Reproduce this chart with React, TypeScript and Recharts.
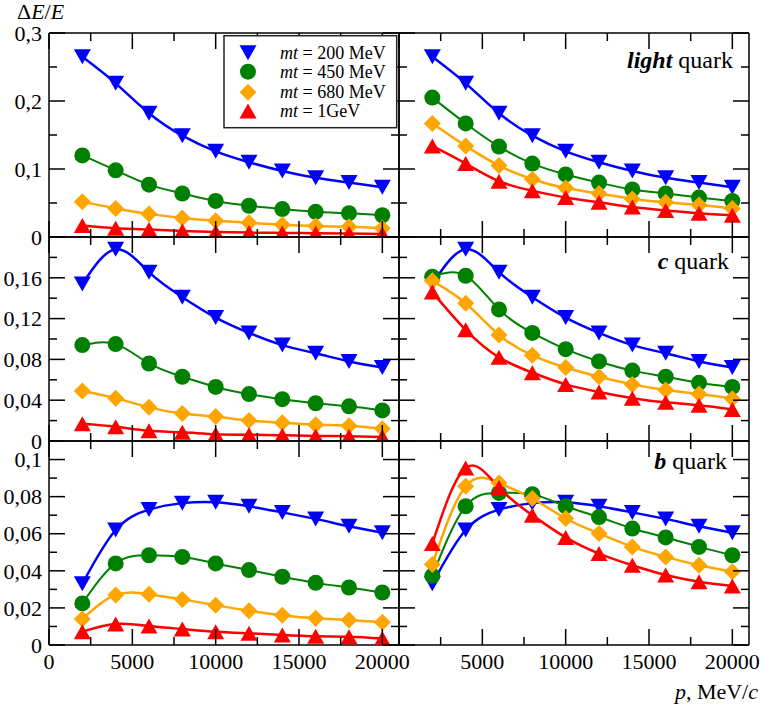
import React from 'react'
import { LineChart, Line, XAxis, YAxis } from 'recharts'

// momentum grid, MeV/c
const P = [2000, 4000, 6000, 8000, 10000, 12000, 14000, 16000, 18000, 20000]

// row 1 (light quark)
const R1_200 = [0.265, 0.226, 0.182, 0.149, 0.126, 0.110, 0.097, 0.087, 0.080, 0.073]
const R1L_450 = [0.120, 0.098, 0.077, 0.064, 0.053, 0.046, 0.041, 0.037, 0.035, 0.032]
const R1L_680 = [0.052, 0.042, 0.034, 0.028, 0.024, 0.021, 0.018, 0.016, 0.015, 0.013]
const R1L_1000 = [0.017, 0.013, 0.011, 0.009, 0.0075, 0.0065, 0.006, 0.0055, 0.005, 0.0045]
const R1R_450 = [0.205, 0.167, 0.133, 0.108, 0.092, 0.080, 0.070, 0.064, 0.058, 0.053]
const R1R_680 = [0.167, 0.134, 0.105, 0.085, 0.072, 0.064, 0.056, 0.051, 0.047, 0.042]
const R1R_1000 = [0.134, 0.108, 0.082, 0.068, 0.058, 0.051, 0.044, 0.039, 0.035, 0.032]

// row 2 (c quark)
const R2_200 = [0.154, 0.188, 0.1655, 0.141, 0.121, 0.106, 0.094, 0.086, 0.078, 0.072]
const R2L_450 = [0.094, 0.095, 0.076, 0.063, 0.053, 0.046, 0.041, 0.037, 0.034, 0.030]
const R2L_680 = [0.049, 0.042, 0.033, 0.027, 0.024, 0.020, 0.018, 0.016, 0.015, 0.012]
const R2L_1000 = [0.017, 0.014, 0.010, 0.0085, 0.0066, 0.0062, 0.0056, 0.005, 0.0046, 0.004]
const R2R_450 = [0.161, 0.162, 0.129, 0.106, 0.090, 0.078, 0.069, 0.063, 0.057, 0.053]
const R2R_680 = [0.157, 0.135, 0.104, 0.084, 0.072, 0.063, 0.0555, 0.050, 0.046, 0.0415]
const R2R_1000 = [0.146, 0.109, 0.082, 0.067, 0.0555, 0.048, 0.042, 0.038, 0.035, 0.031]

// row 3 (b quark)
const R3_200 = [0.033, 0.062, 0.073, 0.0765, 0.077, 0.0748, 0.0715, 0.068, 0.064, 0.0605]
const R3L_450 = [0.0224, 0.044, 0.0484, 0.0475, 0.044, 0.0404, 0.0368, 0.0335, 0.031, 0.0283]
const R3L_680 = [0.014, 0.027, 0.0273, 0.0246, 0.0215, 0.0185, 0.0161, 0.0144, 0.0135, 0.0122]
const R3L_1000 = [0.0072, 0.0113, 0.0102, 0.0086, 0.0072, 0.0063, 0.0054, 0.0047, 0.0045, 0.0035]
const R3R_450 = [0.0373, 0.0748, 0.082, 0.0813, 0.0748, 0.069, 0.0628, 0.058, 0.0529, 0.0484]
const R3R_680 = [0.0434, 0.0856, 0.0874, 0.079, 0.0682, 0.0601, 0.0529, 0.0475, 0.043, 0.0395]
const R3R_1000 = [0.0547, 0.0955, 0.0849, 0.070, 0.058, 0.0493, 0.043, 0.0377, 0.0341, 0.0318]

// axes
const X_TICKS = [0, 2500, 5000, 7500, 10000, 12500, 15000, 17500, 20000]
const R1_TICKS = [0, 0.05, 0.1, 0.15, 0.2, 0.25, 0.3]
const R1_MAJOR = [0, 0.1, 0.2, 0.3]
const R1_LABELS = [0, 0.1, 0.2, 0.3]
const R2_TICKS = [0, 0.02, 0.04, 0.06, 0.08, 0.1, 0.12, 0.14, 0.16, 0.18, 0.2]
const R2_MAJOR = [0, 0.04, 0.08, 0.12, 0.16, 0.2]
const R2_LABELS = [0, 0.04, 0.08, 0.12, 0.16]
const R3_TICKS = [0, 0.01, 0.02, 0.03, 0.04, 0.05, 0.06, 0.07, 0.08, 0.09, 0.1]
const R3_MAJOR = [0, 0.02, 0.04, 0.06, 0.08, 0.1]
const R3_LABELS = [0, 0.02, 0.04, 0.06, 0.08, 0.1]

const SERIES = [
  { key: 'm200', label: '200 MeV', color: '#0000ff', shape: 'down', w: 2.5 },
  { key: 'm450', label: '450 MeV', color: '#008000', shape: 'circle', w: 2 },
  { key: 'm680', label: '680 MeV', color: '#ffa500', shape: 'diamond', w: 2.5 },
  { key: 'm1000', label: '1GeV', color: '#ff0000', shape: 'up', w: 2.5 },
]

const FONT = '"Liberation Serif", "Times New Roman", serif'
const PLOT_L = 49, PLOT_T = 33, PW = 350, PH = 204, M = 50

function Marker({ shape, cx, cy, color }: { shape: string; cx: number; cy: number; color: string }) {
  if (shape === 'circle') return <circle cx={cx} cy={cy} r={8} fill={color} />
  if (shape === 'diamond') return <polygon points={`${cx},${cy - 8.5} ${cx + 8.5},${cy} ${cx},${cy + 8.5} ${cx - 8.5},${cy}`} fill={color} />
  if (shape === 'down') return <polygon points={`${cx - 8.5},${cy - 7.5} ${cx + 8.5},${cy - 7.5} ${cx},${cy + 7.5}`} fill={color} />
  return <polygon points={`${cx},${cy - 7.5} ${cx + 8.5},${cy + 7.5} ${cx - 8.5},${cy + 7.5}`} fill={color} />
}

const fmt = (v: number) => String(v).replace('.', ',')
const has = (arr: number[], v: number) => arr.some(a => Math.abs(a - v) < 1e-9)

const xTick = (side: 'top' | 'bottom', labels: number[]) => (props: any) => {
  const { x, y, payload } = props
  const v = payload.value
  const len = v % 5000 === 0 ? 16 : 8
  const dir = side === 'bottom' ? -1 : 1
  return (
    <g key={`xt-${side}-${v}`}>
      <line x1={x} y1={y} x2={x} y2={y + dir * len} stroke="#000" strokeWidth={1.5} />
      {side === 'bottom' && has(labels, v) && (
        <text x={x} y={y + 24} textAnchor="middle" fontFamily={FONT} fontSize={22} fill="#000">{v}</text>
      )}
    </g>
  )
}

const yTick = (side: 'left' | 'right', major: number[], labels: number[]) => (props: any) => {
  const { x, y, payload } = props
  const v = payload.value
  const len = has(major, v) ? 16 : 8
  const dir = side === 'left' ? 1 : -1
  return (
    <g key={`yt-${side}-${v}`}>
      <line x1={x} y1={y} x2={x + dir * len} y2={y} stroke="#000" strokeWidth={1.5} />
      {side === 'left' && has(labels, v) && (
        <text x={x - 7} y={y} dy="0.35em" textAnchor="end" fontFamily={FONT} fontSize={22} fill="#000">{fmt(v)}</text>
      )}
    </g>
  )
}

const AXIS = { stroke: '#000', strokeWidth: 1.5 }

type PanelProps = {
  col: number; row: number; yMax: number; yTicks: number[]; yMajor: number[]; yLabels: number[]
  xLabels: number[]; s200: number[]; s450: number[]; s680: number[]; s1000: number[]
}

function Panel({ col, row, yMax, yTicks, yMajor, yLabels, xLabels, s200, s450, s680, s1000 }: PanelProps) {
  const data = P.map((p, i) => ({ p, m200: s200[i], m450: s450[i], m680: s680[i], m1000: s1000[i] }))
  const left = PLOT_L + col * PW
  const top = PLOT_T + row * PH
  const m = M - 1 // each axis takes 1px
  return (
    <div style={{ position: 'absolute', left: left - M, top: top - M }}>
      <LineChart width={PW + 2 * M} height={PH + 2 * M} data={data} margin={{ top: m, right: m, bottom: m, left: m }}>
        <XAxis dataKey="p" type="number" domain={[0, 21000]} ticks={X_TICKS} interval={0} height={1}
          tickSize={0} tickMargin={0} tickLine={false} axisLine={AXIS} tick={xTick('bottom', xLabels)} allowDataOverflow />
        <XAxis xAxisId="top" orientation="top" dataKey="p" type="number" domain={[0, 21000]} ticks={X_TICKS} interval={0} height={1}
          tickSize={0} tickMargin={0} tickLine={false} axisLine={AXIS} tick={xTick('top', [])} allowDataOverflow />
        <YAxis type="number" domain={[0, yMax]} ticks={yTicks} interval={0} width={1}
          tickSize={0} tickMargin={0} tickLine={false} axisLine={AXIS} tick={yTick('left', yMajor, yLabels)} allowDataOverflow />
        <YAxis yAxisId="r" orientation="right" type="number" domain={[0, yMax]} ticks={yTicks} interval={0} width={1}
          tickSize={0} tickMargin={0} tickLine={false} axisLine={AXIS} tick={yTick('right', yMajor, [])} allowDataOverflow />
        {SERIES.map(s => (
          <Line key={s.key} dataKey={s.key} type="natural" stroke={s.color} strokeWidth={s.w}
            isAnimationActive={false} activeDot={false}
            dot={(d: any) => <Marker key={`${s.key}-${d.index}`} shape={s.shape} cx={d.cx} cy={d.cy} color={s.color} />} />
        ))}
      </LineChart>
    </div>
  )
}

function Overlay() {
  const rowsY = [52.8, 71.7, 92.2, 111]
  return (
    <svg width={763} height={707} style={{ position: 'absolute', left: 0, top: 0, pointerEvents: 'none' }} fontFamily={FONT}>
      <text x={17} y={19} fontSize={22}>Δ<tspan fontStyle="italic">E</tspan>/<tspan fontStyle="italic">E</tspan></text>
      <text x={758} y={699} fontSize={22} textAnchor="end"><tspan fontStyle="italic">p</tspan>, MeV/<tspan fontStyle="italic">c</tspan></text>
      <text x={733} y={68} fontSize={24} textAnchor="end"><tspan fontWeight="bold" fontStyle="italic">light</tspan> quark</text>
      <text x={729} y={269} fontSize={24} textAnchor="end"><tspan fontWeight="bold" fontStyle="italic">c</tspan> quark</text>
      <text x={727} y={469} fontSize={24} textAnchor="end"><tspan fontWeight="bold" fontStyle="italic">b</tspan> quark</text>
      <rect x={224} y={35.7} width={172.7} height={92} fill="#fff" stroke="#222" strokeWidth={1.5} />
      {SERIES.map((s, i) => (
        <g key={s.key}>
          <Marker shape={s.shape} cx={248} cy={rowsY[i]} color={s.color} />
          <text x={280} y={rowsY[i] + 6} fontSize={18}><tspan fontStyle="italic">mt</tspan> = {s.label}</text>
        </g>
      ))}
    </svg>
  )
}

export default function App() {
  return (
    <div style={{ position: 'absolute', left: 0, top: 0, width: 763, height: 707, background: '#fff' }}>
      <Panel col={0} row={0} yMax={0.3} yTicks={R1_TICKS} yMajor={R1_MAJOR} yLabels={R1_LABELS} xLabels={[]}
        s200={R1_200} s450={R1L_450} s680={R1L_680} s1000={R1L_1000} />
      <Panel col={1} row={0} yMax={0.3} yTicks={R1_TICKS} yMajor={R1_MAJOR} yLabels={[]} xLabels={[]}
        s200={R1_200} s450={R1R_450} s680={R1R_680} s1000={R1R_1000} />
      <Panel col={0} row={1} yMax={0.2} yTicks={R2_TICKS} yMajor={R2_MAJOR} yLabels={R2_LABELS} xLabels={[]}
        s200={R2_200} s450={R2L_450} s680={R2L_680} s1000={R2L_1000} />
      <Panel col={1} row={1} yMax={0.2} yTicks={R2_TICKS} yMajor={R2_MAJOR} yLabels={[]} xLabels={[]}
        s200={R2_200} s450={R2R_450} s680={R2R_680} s1000={R2R_1000} />
      <Panel col={0} row={2} yMax={0.11} yTicks={R3_TICKS} yMajor={R3_MAJOR} yLabels={R3_LABELS} xLabels={[0, 5000, 10000, 15000, 20000]}
        s200={R3_200} s450={R3L_450} s680={R3L_680} s1000={R3L_1000} />
      <Panel col={1} row={2} yMax={0.11} yTicks={R3_TICKS} yMajor={R3_MAJOR} yLabels={[]} xLabels={[5000, 10000, 15000, 20000]}
        s200={R3_200} s450={R3R_450} s680={R3R_680} s1000={R3R_1000} />
      <Overlay />
    </div>
  )
}
